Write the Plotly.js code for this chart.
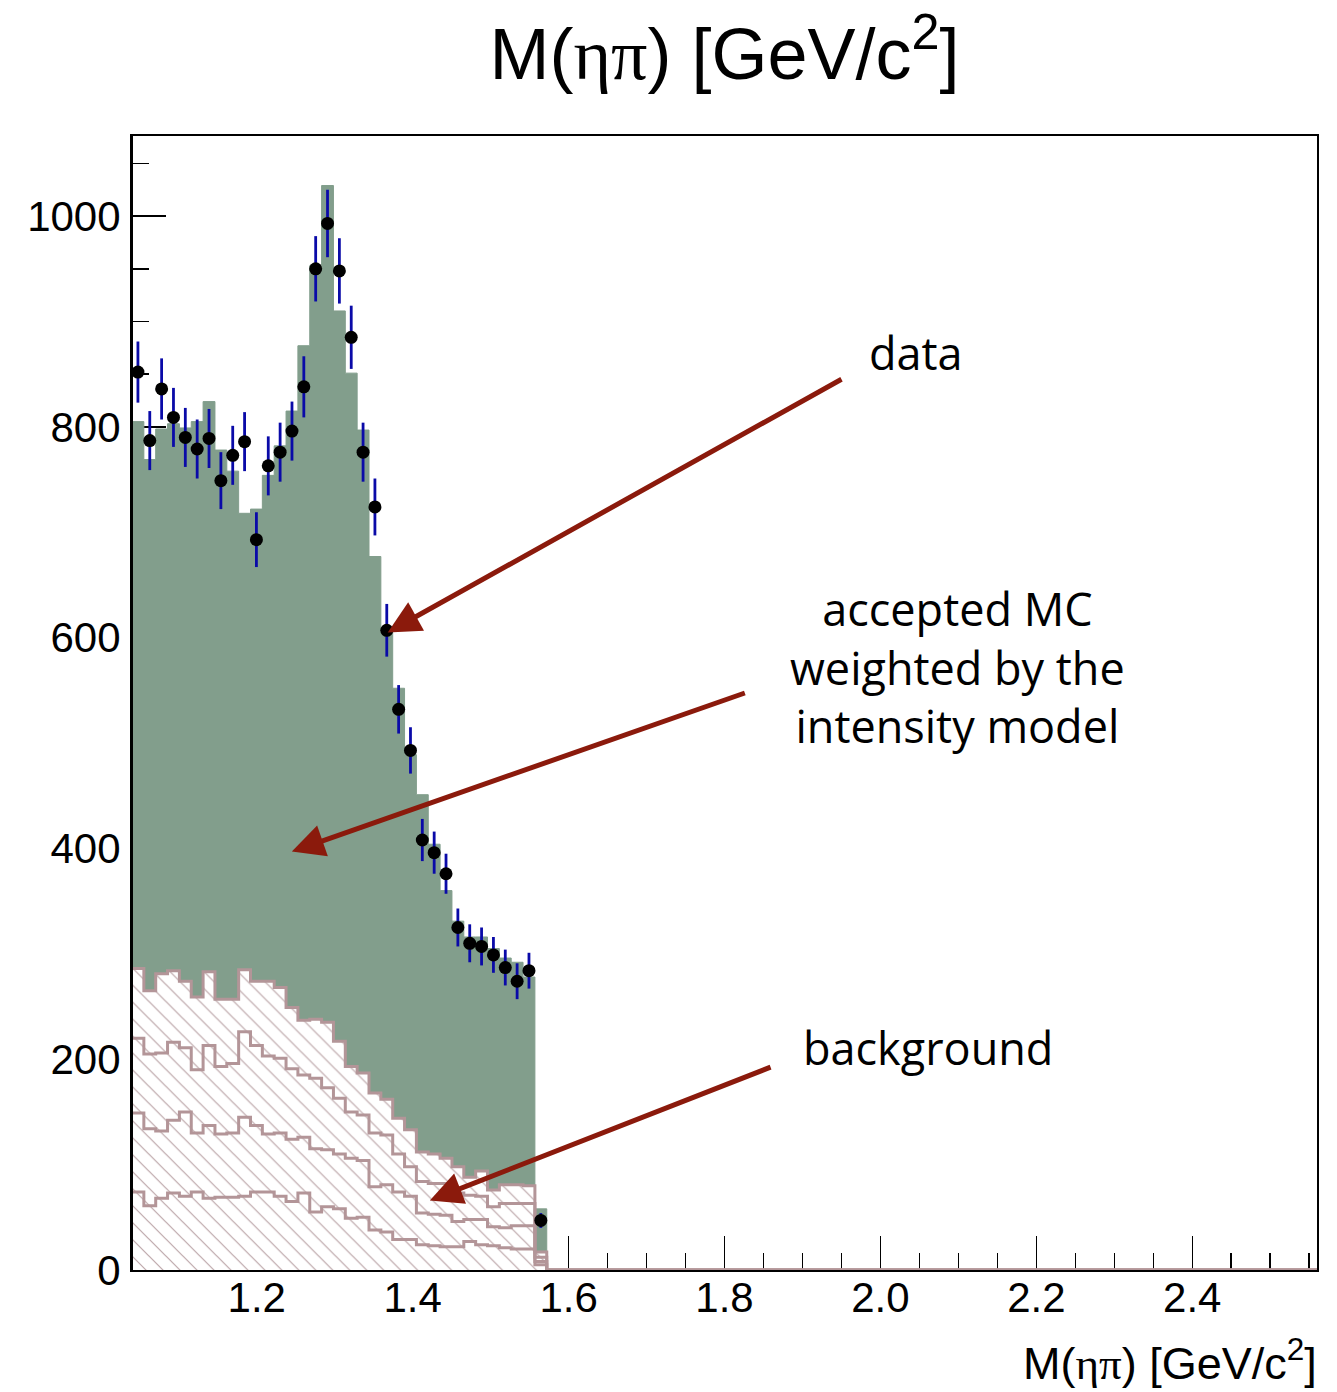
<!DOCTYPE html>
<html>
<head>
<meta charset="utf-8">
<script src="https://cdn.plot.ly/plotly-3.0.1.min.js"></script>
<style>
  html, body { margin: 0; padding: 0; background: #ffffff; }
  #chart { width: 1337px; height: 1392px; }
</style>
</head>
<body>
<div id="chart"></div>
<script>
// Histogram binning: 100 bins from 1.04 to 2.56 GeV/c^2
const xMin = 1.04;
const xMax = 2.56;
const nBins = 100;

// Data (first 35 bins; the remaining bins are empty)
const dataCounts = [852, 787, 836, 809, 790, 779, 789, 749, 773, 786,
                    693, 763, 776, 796, 838, 950, 993, 948, 885, 776,
                    724, 607, 532, 493, 408, 396, 376, 325, 310, 307,
                    299, 287, 274, 284, 47];
const dataErrors = [29, 28, 29, 28, 28, 28, 28, 27, 28, 28,
                    26, 28, 28, 28, 29, 31, 32, 31, 30, 28,
                    27, 25, 23, 22, 20, 20, 19, 18, 18, 18,
                    17, 17, 17, 17, 7];

// Accepted MC weighted by the intensity model
const mcWeighted = [805, 769, 798, 803, 799, 805, 824, 778, 758, 718,
                    722, 754, 782, 815, 877, 953, 1029, 910, 851, 797,
                    677, 608, 552, 489, 451, 404, 360, 331, 316, 316,
                    305, 296, 292, 278, 58];

// Background, stacked (cumulative outlines, from top to bottom)
const bkgLevel4 = [286, 265, 281, 284, 274, 259, 283, 257, 257, 285,
                   274, 274, 268, 249, 237, 238, 235, 217, 193, 187,
                   168, 162, 144, 133, 112, 110, 106, 98, 88, 94,
                   76, 81, 81, 80, 17];
const bkgLevel3 = [220, 205, 206, 216, 211, 190, 213, 193, 196, 226,
                   213, 203, 201, 191, 185, 182, 173, 163, 150, 147,
                   130, 128, 110, 98, 84, 82, 82, 73, 71, 70,
                   60, 63, 63, 63, 12];
const bkgLevel2 = [149, 134, 132, 142, 150, 130, 137, 129, 130, 145,
                   137, 129, 130, 124, 126, 115, 114, 110, 106, 104,
                   79, 81, 74, 70, 54, 53, 52, 46, 48, 48,
                   41, 40, 42, 42, 8];
const bkgLevel1 = [74, 61, 68, 73, 70, 74, 68, 69, 69, 70,
                   74, 74, 70, 65, 73, 55, 60, 58, 49, 50,
                   38, 36, 29, 29, 24, 23, 22, 22, 27, 24,
                   23, 21, 20, 20, 5];

const titleText = 'M(<span style="font-family:\'Liberation Serif\'">ηπ</span>) [GeV/c<sup>2</sup>]';
const labels = {
  data: 'data',
  mc: 'accepted MC<br>weighted by the<br>intensity model',
  bkg: 'background'
};

// ---- helpers ----
const binW = (xMax - xMin) / nBins;
function stepTrace(vals) {
  const x = [], y = [];
  for (let i = 0; i < nBins; i++) {
    x.push(xMin + i * binW);
    y.push(i < vals.length ? vals[i] : 0);
  }
  x.push(xMax);
  y.push(0);
  return {x, y};
}
const centers = dataCounts.map((_, i) => xMin + (i + 0.5) * binW);

const green = '#829e8c';
const mauve = '#b39598';
const hatch = '#bca6a9';

const sMC = stepTrace(mcWeighted);
const s4 = stepTrace(bkgLevel4);
const s3 = stepTrace(bkgLevel3);
const s2 = stepTrace(bkgLevel2);
const s1 = stepTrace(bkgLevel1);

const traces = [
  {
    x: sMC.x, y: sMC.y, type: 'scatter', mode: 'lines',
    line: {shape: 'hv', color: green, width: 1},
    fill: 'tozeroy', fillcolor: green, hoverinfo: 'skip', showlegend: false
  },
  {
    x: s4.x, y: s4.y, type: 'scatter', mode: 'lines',
    line: {shape: 'hv', color: mauve, width: 3},
    fill: 'tozeroy', fillcolor: '#ffffff',
    fillpattern: {shape: '\\', fgcolor: hatch, bgcolor: '#ffffff', size: 12, solidity: 0.1},
    hoverinfo: 'skip', showlegend: false
  },
  {
    x: s3.x, y: s3.y, type: 'scatter', mode: 'lines',
    line: {shape: 'hv', color: mauve, width: 3}, hoverinfo: 'skip', showlegend: false
  },
  {
    x: s2.x, y: s2.y, type: 'scatter', mode: 'lines',
    line: {shape: 'hv', color: mauve, width: 3}, hoverinfo: 'skip', showlegend: false
  },
  {
    x: s1.x, y: s1.y, type: 'scatter', mode: 'lines',
    line: {shape: 'hv', color: mauve, width: 3}, hoverinfo: 'skip', showlegend: false
  },
  {
    x: centers, y: dataCounts, type: 'scatter', mode: 'markers',
    marker: {color: '#000000', size: 13},
    error_y: {type: 'data', array: dataErrors, visible: true, color: '#0a0aa8', thickness: 2.8, width: 0},
    showlegend: false
  }
];

const arrowColor = '#8b1a0c';
function arrow(tailX, tailY, tipX, tipY) {
  return {
    x: tipX, y: tipY, xref: 'x', yref: 'y',
    ax: tailX, ay: tailY, axref: 'x', ayref: 'y',
    text: '', showarrow: true, arrowhead: 2, arrowsize: 1.3,
    arrowwidth: 5, arrowcolor: arrowColor, standoff: 0, startstandoff: 0
  };
}
const annFont = {family: 'Open Sans, Lato, sans-serif', size: 45, color: '#000000'};

const layout = {
  width: 1337, height: 1392,
  margin: {l: 132, r: 20, t: 136, b: 122},
  paper_bgcolor: '#ffffff', plot_bgcolor: '#ffffff',
  showlegend: false,
  title: {
    text: titleText, x: 0.5, xref: 'paper', xanchor: 'center',
    y: 0.961, yref: 'container', yanchor: 'middle',
    font: {family: 'Liberation Sans, Arial, sans-serif', size: 72, color: '#000000'}
  },
  xaxis: {
    range: [xMin, xMax], showgrid: false, zeroline: false,
    showline: true, mirror: true, linecolor: '#000000', linewidth: 2,
    ticks: 'inside', ticklen: 34, tickwidth: 1.5, tickcolor: '#000000',
    tick0: 0, dtick: 0.2, tickformat: '.1f',
    minor: {dtick: 0.05, ticks: 'inside', ticklen: 17, tickwidth: 1.5, tickcolor: '#000000'},
    tickfont: {family: 'Liberation Sans, Arial, sans-serif', size: 42, color: '#000000'},
    ticklabelstandoff: -10,
    layer: 'below traces'
  },
  yaxis: {
    range: [0, 1076], showgrid: false, zeroline: false,
    showline: true, mirror: true, linecolor: '#000000', linewidth: 2,
    ticks: 'inside', ticklen: 34, tickwidth: 1.5, tickcolor: '#000000',
    tick0: 0, dtick: 200,
    minor: {dtick: 50, ticks: 'inside', ticklen: 17, tickwidth: 1.5, tickcolor: '#000000'},
    tickfont: {family: 'Liberation Sans, Arial, sans-serif', size: 42, color: '#000000'},
    ticklabelstandoff: 1,
    layer: 'below traces'
  },
  shapes: [
    {type: 'line', xref: 'paper', yref: 'paper', x0: 0, x1: 0, y0: 0, y1: 1,
     line: {color: '#000000', width: 2}, layer: 'above'}
  ],
  annotations: [
    arrow(1.952, 846, 1.368, 605),
    arrow(1.828, 548, 1.245, 397),
    arrow(1.861, 193, 1.422, 66),
    {x: 0.6616, y: 0.8095, xref: 'paper', yref: 'paper', xanchor: 'center', yanchor: 'middle',
     text: labels.data, showarrow: false, font: annFont},
    {x: 0.697, y: 0.532, xref: 'paper', yref: 'paper', xanchor: 'center', yanchor: 'middle',
     text: labels.mc, showarrow: false, font: annFont, align: 'center'},
    {x: 0.672, y: 0.1958, xref: 'paper', yref: 'paper', xanchor: 'center', yanchor: 'middle',
     text: labels.bkg, showarrow: false, font: annFont},
    {x: 1.002, y: -0.079, xref: 'paper', yref: 'paper', xanchor: 'right', yanchor: 'middle',
     text: titleText, showarrow: false,
     font: {family: 'Liberation Sans, Arial, sans-serif', size: 45, color: '#000000'}}
  ]
};

Plotly.newPlot('chart', traces, layout, {staticPlot: true, displayModeBar: false});
</script>
</body>
</html>
